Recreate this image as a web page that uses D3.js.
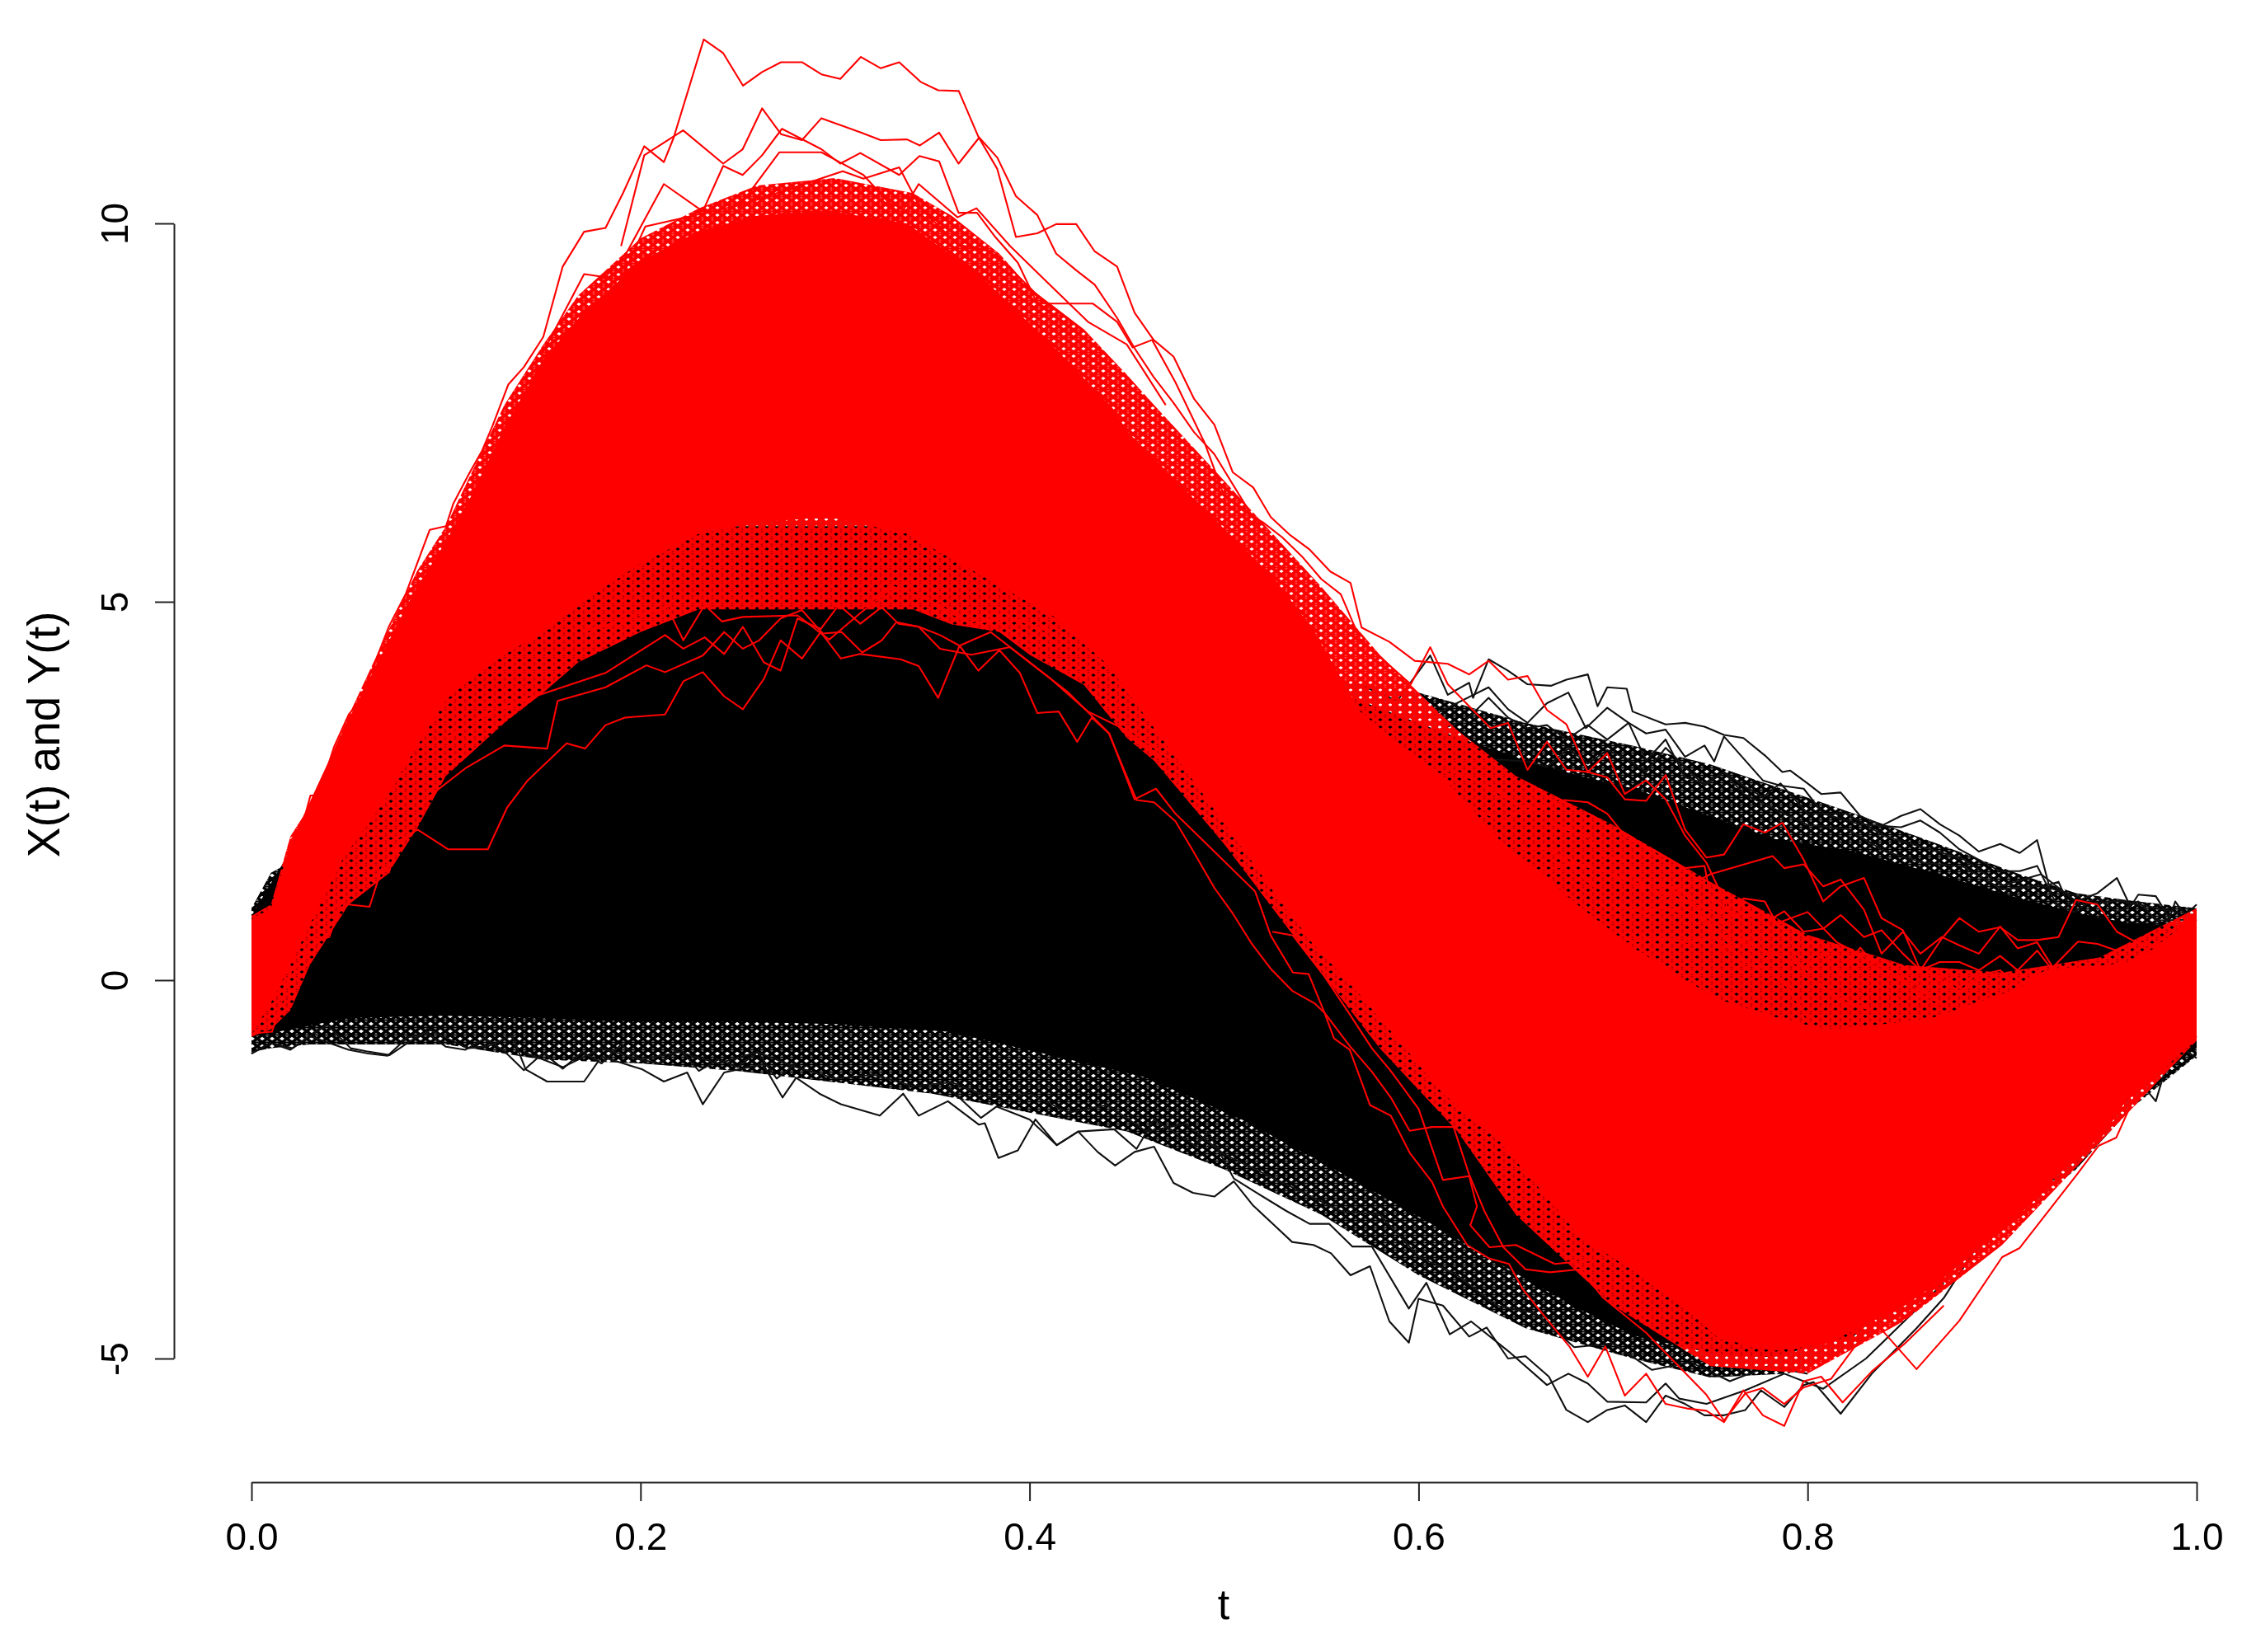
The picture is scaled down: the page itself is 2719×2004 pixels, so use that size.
<!DOCTYPE html>
<html>
<head>
<meta charset="utf-8">
<script src="https://cdn.jsdelivr.net/npm/d3@7"></script>
<style>
html,body{margin:0;padding:0;background:#fff;}
svg{display:block;filter:blur(0.6px);}
text{font-family:"Liberation Sans",Arial,sans-serif;fill:#000;}
</style>
</head>
<body>
<script>
const xTickValues=[0,0.2,0.4,0.6,0.8,1];
const yTickValues=[-5,0,5,10];
const xTitle="t";
const yTitle="X(t) and Y(t)";

// Densely overplotted bundles, read as [t, upper, lower]
const blackFringe=[[0,0.95,-0.95],[0.01,1.42,-0.9],[0.03,1.7,-0.85],[0.05,3,-0.85],[0.1,5,-0.85],[0.15,6,-1.05],[0.2,6.5,-1.1],[0.25,6.5,-1.2],[0.3,6.5,-1.35],[0.35,6.3,-1.5],[0.4,5.5,-1.75],[0.45,5,-2],[0.5,4.5,-2.5],[0.55,4,-3.1],[0.6,3.8,-3.9],[0.655,3.4,-4.6],[0.71,3.1,-5],[0.75,2.85,-5.25],[0.79,2.5,-5.2],[0.824,2.2,-4.85],[0.867,1.8,-4.1],[0.909,1.4,-3.1],[0.938,1.15,-2.5],[0.966,1.05,-1.7],[1,0.95,-1]];
const blackCore=[[0,0.85,-0.75],[0.05,3,-0.5],[0.1,5,-0.47],[0.15,5.5,-0.5],[0.2,6,-0.55],[0.25,6,-0.55],[0.3,6,-0.58],[0.358,6,-0.68],[0.409,5,-0.98],[0.459,4.5,-1.28],[0.509,4,-1.84],[0.559,3.8,-2.53],[0.61,3.3,-3.27],[0.655,2.9,-3.95],[0.683,2.7,-4.35],[0.711,2.53,-4.7],[0.754,2.13,-4.95],[0.782,1.87,-4.98],[0.824,1.7,-4.7],[0.867,1.4,-3.75],[0.909,1.08,-2.85],[0.938,0.89,-2.25],[0.966,0.75,-1.55],[1,0.72,-0.85]];
const redFringe=[[0,0.85,-0.75],[0.01,1,-0.65],[0.02,1.9,-0.4],[0.03,2.3,0.2],[0.05,3.5,1],[0.07,4.6,1.4],[0.085,5.4,2],[0.1,6,2.7],[0.113,6.7,3],[0.13,7.6,3.4],[0.15,8.4,3.8],[0.168,9.05,4.2],[0.2,9.8,4.6],[0.23,10.2,4.9],[0.26,10.5,4.9],[0.3,10.6,4.9],[0.34,10.4,4.9],[0.36,10.1,4.7],[0.3845,9.6,4.6],[0.4,9.15,4.3],[0.428,8.6,3.9],[0.45,8,3.2],[0.464,7.6,2.9],[0.5,6.6,1.8],[0.55,5.2,0.1],[0.58,4.3,-0.9],[0.62,3.3,-2],[0.65,2.7,-3.1],[0.7,2.05,-4.3],[0.75,1.3,-5.1],[0.8,0.6,-5.2],[0.85,0.2,-4.5],[0.9,0.1,-3.5],[0.95,0.3,-2.15],[1,0.95,-0.8]];
const redCore=[[0,0.8,-0.72],[0.01,0.95,-0.3],[0.02,1.8,0.2],[0.029,2.3,0.68],[0.047,3.3,1.6],[0.069,4.4,2.4],[0.083,5.1,3],[0.1,5.8,3.7],[0.113,6.4,4],[0.13,7.3,4.3],[0.15,8.2,4.6],[0.17,8.8,5],[0.2,9.5,5.5],[0.23,9.9,5.9],[0.26,10.1,6.05],[0.287,10.15,6.1],[0.3,10.15,6.1],[0.337,10,5.9],[0.375,9.3,5.35],[0.4127,8.36,4.8],[0.443,7.55,4.1],[0.4505,7.24,3.8],[0.488,6.27,2.5],[0.526,5.3,1.15],[0.545,4.66,0.5],[0.57,3.55,-0.2],[0.584,3.25,-0.62],[0.6125,2.68,-1.5],[0.641,1.87,-2.11],[0.683,0.97,-3.39],[0.711,0.42,-3.85],[0.74,-0.04,-4.4],[0.754,-0.25,-4.73],[0.782,-0.48,-4.9],[0.81,-0.66,-4.8],[0.85,-0.55,-4.3],[0.867,-0.48,-4],[0.909,-0.1,-3.1],[0.923,0.13,-2.75],[0.93,0.15,-2.5],[0.952,0.2,-2.05],[0.966,0.24,-1.5],[0.98,0.45,-1.24],[1,0.89,-0.74]];

// Individually visible black curves
const blackLowA=[[0,-0.97],[0.0095,-0.83],[0.021,-0.9],[0.032,-0.7],[0.039,-0.59],[0.051,-0.9],[0.059,-0.94],[0.071,-0.99],[0.082,-0.8],[0.092,-0.66],[0.111,-0.9],[0.122,-0.87],[0.134,-0.73],[0.141,-1.18],[0.152,-1.34],[0.171,-1.34],[0.18,-1.01],[0.201,-1.18],[0.212,-1.34],[0.224,-1.22],[0.232,-1.64],[0.243,-1.22],[0.263,-1.11],[0.273,-1.55],[0.28,-1.29],[0.292,-1.5],[0.303,-1.64],[0.323,-1.79],[0.335,-1.5],[0.343,-1.79],[0.358,-1.6],[0.374,-1.91],[0.377,-1.89],[0.384,-2.35],[0.394,-2.25],[0.403,-1.84],[0.414,-2.18],[0.425,-2],[0.435,-2.27],[0.444,-2.45],[0.454,-2.27],[0.464,-2.2],[0.474,-2.68],[0.484,-2.81],[0.495,-2.86],[0.505,-2.66],[0.515,-2.98],[0.525,-3.22],[0.535,-3.46],[0.546,-3.5],[0.555,-3.61],[0.565,-3.9],[0.575,-3.78],[0.585,-4.51],[0.595,-4.79],[0.6,-4.21],[0.6125,-4.3],[0.626,-4.71],[0.635,-4.59],[0.646,-5],[0.655,-4.97],[0.667,-5.24],[0.676,-5.68],[0.687,-5.84],[0.697,-5.68],[0.706,-5.62],[0.717,-5.84],[0.727,-5.49],[0.737,-5.6],[0.747,-5.75],[0.757,-5.75],[0.768,-5.68],[0.776,-5.42],[0.788,-5.64],[0.798,-5.35],[0.803,-5.31],[0.817,-5.73],[0.833,-5.2],[0.856,-4.6],[0.87,-4.2],[0.885,-3.6],[0.902,-3.08],[0.92,-2.7],[0.9347,-2.55],[0.95,-1.97],[0.971,-1.35],[0.979,-1.6],[0.9856,-1.03],[0.99,-1.1],[0.994,-0.92],[1,-1.03]];
const blackLowB=[[0.358,-1.41],[0.375,-1.82],[0.383,-1.67],[0.4,-1.84],[0.414,-2.18],[0.425,-2],[0.4435,-1.97],[0.455,-2.23],[0.464,-1.84],[0.4853,-2.19],[0.492,-2.01],[0.505,-2.62],[0.5155,-2.79],[0.532,-3.05],[0.544,-3.22],[0.554,-3.22],[0.566,-3.52],[0.576,-3.52],[0.595,-4.34],[0.604,-4],[0.616,-4.68],[0.627,-4.51],[0.646,-4.9],[0.666,-5.35],[0.677,-5.2],[0.687,-5.33],[0.697,-5.57],[0.717,-5.58],[0.727,-5.33],[0.734,-5.53],[0.748,-5.6],[0.768,-5.42],[0.788,-5.2],[0.808,-5.4],[0.83,-5],[0.85,-4.5],[0.87,-4]];
const blackLowC=[[0.14,-0.95],[0.16,-1.15],[0.18,-0.9],[0.2,-1.05],[0.22,-0.95],[0.24,-1.1],[0.26,-0.95],[0.28,-1.15],[0.3,-1.3],[0.32,-1.25],[0.34,-1.4],[0.36,-1.35],[0.38,-1.55],[0.4,-1.5],[0.42,-1.75],[0.44,-1.65],[0.46,-2],[0.48,-1.9],[0.5,-2.3],[0.52,-2.55],[0.54,-2.8],[0.56,-3.05],[0.58,-3.1],[0.6,-3.65],[0.62,-3.9],[0.64,-4.3],[0.66,-4.4],[0.68,-4.85],[0.7,-4.8],[0.72,-5.15],[0.74,-5.05],[0.76,-5.3],[0.78,-5.1],[0.8,-5.2]];
const blackLowD=[[0,-0.97],[0.01,-0.83],[0.02,-0.92],[0.03,-0.74],[0.04,-0.83],[0.05,-0.92],[0.06,-0.97],[0.07,-1],[0.08,-0.76],[0.09,-0.7],[0.1,-0.88],[0.11,-0.92],[0.12,-0.77],[0.13,-0.94],[0.14,-1.19],[0.15,-0.96],[0.16,-1.17],[0.17,-0.95],[0.18,-1.1],[0.19,-0.85],[0.2,-1.05],[0.21,-1.1],[0.22,-0.9],[0.23,-1.2],[0.24,-1.05],[0.25,-1.15],[0.26,-0.95],[0.27,-1.3],[0.28,-1.1]];
const blackTopA=[[0.57,3.9],[0.589,3.69],[0.606,4.29],[0.615,3.77],[0.626,3.93],[0.628,3.73],[0.636,4.24],[0.646,4.09],[0.656,3.91],[0.668,3.89],[0.676,3.97],[0.687,4.04],[0.692,3.62],[0.697,3.87],[0.707,3.85],[0.71,3.55],[0.727,3.38],[0.737,3.4],[0.747,3.35],[0.757,3.24],[0.767,3.2],[0.778,2.97],[0.787,2.75],[0.791,2.77],[0.8,2.6],[0.807,2.46],[0.817,2.48],[0.827,2.17],[0.838,2.04],[0.848,2.17],[0.858,2.26],[0.868,2.06],[0.878,1.91],[0.888,1.7],[0.899,1.8],[0.909,1.68],[0.918,1.85],[0.924,1.26],[0.929,1.3],[0.934,1],[0.949,1.15],[0.959,1.35],[0.966,0.97],[0.97,1.13],[0.979,1.11],[0.986,0.82],[0.989,1.04],[0.994,0.86],[1,1]];
const blackTopB=[[0.6,3.4],[0.615,3.6],[0.636,3.87],[0.646,3.58],[0.656,3.4],[0.666,3.66],[0.677,3.8],[0.686,3.33],[0.697,3.6],[0.708,3.4],[0.717,3.26],[0.727,3.31],[0.737,2.95],[0.747,3.1],[0.752,2.89],[0.757,3.22],[0.777,2.64],[0.786,2.57],[0.798,2.53],[0.808,2.2],[0.827,2.06],[0.848,2.02],[0.858,2.11],[0.868,1.95],[0.878,1.73],[0.888,1.59],[0.899,1.44],[0.909,1.44],[0.918,1.51],[0.928,1],[0.937,0.9],[0.949,1.1],[0.959,0.9],[0.97,1.04],[0.979,0.79],[1,0.8]];
const blackTopC=[[0.6,3.2],[0.625,3.45],[0.636,3.73],[0.646,3.47],[0.656,3.33],[0.666,3.37],[0.676,3.18],[0.687,3.37],[0.697,3.18],[0.708,3.4],[0.717,2.9],[0.727,3.18],[0.737,2.68],[0.747,2.6],[0.757,2.75],[0.767,2.57],[0.777,2.42],[0.786,2.6],[0.8,2.2],[0.82,2.2],[0.84,1.9],[0.86,1.75],[0.88,1.6],[0.9,1.25],[0.92,1.4],[0.94,1],[0.96,1.05],[0.98,0.95],[1,0.85]];
const blackTopD=[[0.62,2.95],[0.656,2.89],[0.666,2.82],[0.677,3.06],[0.687,2.86],[0.697,3.04],[0.707,2.93],[0.717,2.75],[0.727,3.07],[0.737,2.82],[0.747,2.57],[0.757,2.75],[0.767,2.46],[0.78,2.3],[0.8,2.05],[0.82,2],[0.84,1.7],[0.86,1.55],[0.88,1.5],[0.9,1.2],[0.92,1.25],[0.94,1.1]];

// Individually visible red curves
const redTopA=[[0.0198,1.84],[0.024,1.95],[0.0275,2.17],[0.0303,2.44],[0.0346,2.44],[0.0388,2.79],[0.0424,3.08],[0.05,3.51],[0.0558,3.69],[0.0706,4.67],[0.0794,5.11],[0.0916,5.95],[0.1,6],[0.1038,6.3],[0.112,6.7],[0.1186,7],[0.124,7.33],[0.132,7.87],[0.14,8.1],[0.15,8.5],[0.16,9.43],[0.171,9.89],[0.182,9.94],[0.191,10.4],[0.2019,11.02],[0.212,10.81],[0.217,11.13],[0.2325,12.43],[0.2425,12.25],[0.2527,11.82],[0.2625,12],[0.2722,12.13],[0.283,12.13],[0.293,11.97],[0.3027,11.91],[0.3133,12.2],[0.3235,12.05],[0.333,12.13],[0.344,11.87],[0.353,11.76],[0.3636,11.75],[0.3736,11.15],[0.3834,10.87],[0.393,10.36],[0.404,10.11],[0.4137,9.6],[0.424,9.38],[0.4335,9.19],[0.445,8.75],[0.454,8.35],[0.4638,7.97],[0.474,7.63],[0.4846,7.24],[0.495,6.95],[0.52,5.9]];
const redTopB=[[0.19,9.7],[0.2019,10.9],[0.2219,11.23],[0.2425,10.79],[0.2525,10.98],[0.2625,11.52],[0.2722,11.18],[0.283,11.1],[0.293,11.39],[0.3133,11.2],[0.3235,11.1],[0.337,11.11],[0.3436,11.03],[0.3535,11.2],[0.3635,10.79],[0.374,11.13],[0.3834,10.72],[0.393,9.82],[0.404,9.87],[0.4137,9.99],[0.424,9.99],[0.4335,9.63],[0.445,9.43],[0.454,8.82],[0.4638,8.46],[0.474,8.24],[0.4846,7.68],[0.495,7.34],[0.5045,6.71],[0.515,6.51],[0.524,6.12],[0.534,5.88],[0.544,5.69],[0.5546,5.4],[0.565,5.25],[0.5707,4.66],[0.585,4.47],[0.598,4.22],[0.615,4.18],[0.626,4.04],[0.636,4.22],[0.646,3.97],[0.656,4.02],[0.666,3.57],[0.676,3.38],[0.687,2.75],[0.697,2.68],[0.706,2.39],[0.717,2.37],[0.727,2.71],[0.737,1.99],[0.748,1.62],[0.757,1.66],[0.767,2.06],[0.778,1.95],[0.787,2.08],[0.798,1.59],[0.808,1.04],[0.817,1.24],[0.829,1.35],[0.838,0.82],[0.849,0.66],[0.858,0.13],[0.869,0.55],[0.878,0.82],[0.888,0.64],[0.899,0.7],[0.908,0.53],[0.918,0.53],[0.929,0.57],[0.938,1.06],[0.949,1],[0.959,0.64],[0.969,0.5],[0.979,0.42],[1,0.8]];
const redTopC=[[0.15,8.3],[0.171,9.33],[0.182,9.29],[0.193,9.62],[0.212,10.52],[0.232,10.16],[0.2425,10.76],[0.2525,10.64],[0.2625,10.9],[0.2727,11.25],[0.293,10.98],[0.3027,10.79],[0.313,10.93],[0.333,10.64],[0.3434,10.89],[0.3535,10.82],[0.3635,10.14],[0.373,10.14],[0.3824,9.82],[0.394,9.48],[0.404,8.94],[0.4326,8.94],[0.445,8.7],[0.453,8.36],[0.463,8.46],[0.475,7.9],[0.49,7.1],[0.5,6.4]];
const redTopD=[[0.25,10.2],[0.2714,10.94],[0.293,10.94],[0.3146,10.64],[0.3335,10.11],[0.343,10.52],[0.363,10.08],[0.3727,10.2],[0.39,9.7],[0.41,9.2],[0.43,8.7],[0.45,8.4],[0.47,7.6]];
const redTopE=[[0.18,8.7],[0.2025,9.96],[0.232,10.13],[0.2525,10.25],[0.282,10.5],[0.304,10.69],[0.3146,10.59],[0.333,10.74],[0.344,10.2],[0.363,9.72],[0.382,9.62],[0.393,9.33],[0.41,8.9]];
const redUpperRightA=[[0.5,6.4],[0.51,6.2],[0.52,6.05],[0.53,5.85],[0.54,5.6],[0.55,5.3],[0.56,5.1],[0.57,4.5],[0.596,3.91],[0.606,4.4],[0.615,3.91],[0.626,3.62],[0.637,3.33],[0.646,3.4],[0.656,2.78],[0.666,3.15],[0.676,2.78],[0.687,2.75],[0.697,3],[0.706,2.46],[0.717,2.64],[0.727,2.39],[0.737,1.91],[0.748,1.55],[0.76,0.9]];
const redMidA=[[0.72,1],[0.75,1.4],[0.782,1.64],[0.788,1.48],[0.798,1.53],[0.808,1.24],[0.817,1.33],[0.829,0.93],[0.838,0.35],[0.849,0.64],[0.858,0.35],[0.869,0.57],[0.878,0.46],[0.888,0.35],[0.899,0.71],[0.908,0.42],[0.918,0.5],[0.926,0.17],[0.939,0.51],[0.949,0.48],[0.959,0.39],[0.969,0.51],[0.979,0.46],[1,0.7]];
const redMidB=[[0.66,1.4],[0.68,1.55],[0.7,1.4],[0.72,1.2],[0.74,1],[0.76,0.9],[0.782,0.82],[0.788,0.91],[0.798,0.64],[0.808,0.68],[0.817,0.86],[0.829,0.57],[0.838,0.66],[0.849,0.35],[0.858,0.13],[0.868,0.24],[0.878,0.24],[0.888,0.13],[0.899,0.32],[0.908,0.13],[0.918,0.39],[0.926,0.13]];
const redMidC=[[0.7,0.45],[0.72,0.55],[0.74,0.5],[0.76,0.6],[0.782,0.35],[0.798,0.17],[0.808,0.35],[0.817,0.06],[0.827,0.43],[0.838,0.1],[0.849,-0.01],[0.858,-0.23],[0.868,0.06],[0.878,-0.16],[0.888,0.06],[0.899,0.13],[0.909,-0.08],[0.923,0.13]];
const redMidD=[[0.6,2.8],[0.62,2.75],[0.638,2.53],[0.655,2.24],[0.675,2.38],[0.687,2.35],[0.697,2.2],[0.707,1.88],[0.717,1.77],[0.737,1.48],[0.747,1.51],[0.75,1.11],[0.757,0.71],[0.767,1.08],[0.778,1.04],[0.784,0.75],[0.8,0.9],[0.815,0.5],[0.83,0.3],[0.85,0],[0.87,-0.35]];
const redMidE=[[0.625,2.3],[0.644,2.1],[0.655,2.31],[0.676,1.99],[0.686,1.91],[0.696,1.62],[0.706,1.59],[0.717,1.15],[0.727,1.26],[0.737,1.15],[0.747,0.79],[0.757,0.39],[0.767,0.5],[0.778,0.28],[0.79,0.45],[0.8,0.05],[0.82,-0.3],[0.84,-0.45]];
const redMidF=[[0.65,1.75],[0.669,1.73],[0.678,1.55],[0.687,1.3],[0.697,1.15],[0.707,0.93],[0.717,0.9],[0.727,0.97],[0.737,0.86],[0.747,0.82],[0.757,0.57],[0.768,0.21],[0.778,0.17],[0.79,-0.1],[0.8,-0.5]];
const redInnerA=[[0.002,-0.7],[0.0106,-0.68],[0.0204,0.12],[0.024,0.2],[0.033,0.53],[0.04,0.57],[0.046,1.01],[0.0607,0.97],[0.067,1.48],[0.0706,1.42],[0.0756,1.84],[0.0854,1.99],[0.101,1.73],[0.1215,1.73],[0.1314,2.28],[0.142,2.64],[0.162,3.13],[0.1715,3.06],[0.182,3.37],[0.192,3.47],[0.2126,3.51],[0.222,3.95],[0.232,4.07],[0.243,3.75],[0.2526,3.58],[0.2634,3.98],[0.272,4.49],[0.283,4.25],[0.2926,4.6],[0.303,4.25],[0.313,4.31],[0.3337,4.24],[0.343,4.15],[0.353,3.73],[0.364,4.42],[0.3737,4.09],[0.3845,4.36],[0.395,4.06],[0.404,3.53],[0.415,3.55],[0.4245,3.15],[0.432,3.47],[0.4408,3.26],[0.455,2.38],[0.464,2.35],[0.475,2.1],[0.484,1.71],[0.495,1.22],[0.5045,0.88],[0.514,0.49],[0.524,0.15],[0.535,-0.14],[0.5467,-0.31],[0.5516,-0.43],[0.5565,-0.77],[0.5646,-0.92],[0.575,-1.65],[0.5857,-1.79],[0.5954,-2.28],[0.607,-2.67],[0.6125,-2.99],[0.625,-3.5],[0.6365,-3.68],[0.6465,-3.75],[0.6535,-4.08],[0.6634,-4.4],[0.6775,-4.84],[0.687,-5.24],[0.696,-4.84],[0.706,-5.49],[0.717,-5.2],[0.727,-5.6],[0.738,-5.66],[0.748,-5.69],[0.757,-5.84],[0.767,-5.42],[0.777,-5.75],[0.788,-5.89],[0.798,-5.3],[0.807,-5.24],[0.818,-5.58],[0.833,-5.17],[0.85,-4.8],[0.87,-4.3]];
const redInnerB=[[0.09,2.4],[0.11,2.8],[0.13,3.1],[0.152,3.06],[0.1574,3.69],[0.182,3.87],[0.203,4.16],[0.2126,4.07],[0.232,4.29],[0.243,4.6],[0.2526,4.38],[0.261,4.49],[0.272,4.78],[0.283,4.89],[0.2937,4.58],[0.3034,4.6],[0.314,4.33],[0.324,4.49],[0.3315,4.73],[0.343,4.67],[0.354,4.56],[0.364,4.42],[0.38,4.6],[0.4,4.2],[0.42,3.8],[0.441,3.26],[0.454,2.39],[0.465,2.53],[0.475,2.2],[0.495,1.7],[0.516,1.17],[0.524,0.59],[0.5354,0.1],[0.5435,0.08],[0.5516,-0.43],[0.5646,-0.87],[0.576,-1.21],[0.5857,-1.55],[0.5954,-1.99],[0.607,-1.94],[0.618,-1.94],[0.626,-2.57],[0.634,-3.06],[0.6436,-3.53],[0.655,-3.82],[0.6676,-3.86],[0.683,-3.82],[0.695,-4.2],[0.717,-4.66],[0.728,-4.95],[0.748,-5.48],[0.757,-5.82],[0.768,-5.46],[0.777,-5.39],[0.788,-5.6],[0.798,-5.38],[0.812,-5.27],[0.834,-4.5],[0.856,-5.14],[0.878,-4.5],[0.9,-3.66],[0.909,-3.54],[0.929,-2.88],[0.939,-2.55],[0.9495,-2.19],[0.9587,-2.08],[0.97,-1.43],[0.98,-1.24],[1,-0.74]];
const redInnerC=[[0.1,3.2],[0.12,3.5],[0.14,3.7],[0.182,4.06],[0.2126,4.56],[0.222,4.38],[0.233,4.53],[0.243,4.31],[0.2526,4.67],[0.2634,4.2],[0.272,4.09],[0.2807,4.78],[0.2926,4.64],[0.302,4.96],[0.313,4.71],[0.324,4.93],[0.3326,4.71],[0.343,4.67],[0.354,4.38],[0.37,4.3],[0.39,4.4],[0.41,4],[0.43,3.55],[0.45,3.3],[0.47,2.9]];
const redInnerD=[[0.17,4.6],[0.2137,4.93],[0.222,4.49],[0.233,4.96],[0.2418,4.74],[0.2526,4.8],[0.2807,4.82],[0.297,4.5],[0.313,4.85],[0.33,5.2],[0.35,5],[0.37,4.7],[0.39,4.8],[0.41,4.6]];
const redInnerE=[[0.5248,0.64],[0.5354,0.59],[0.5516,0.05],[0.5646,-0.45],[0.576,-0.9],[0.5857,-1.2],[0.6,-1.7],[0.6125,-2.64],[0.626,-2.59],[0.63,-2.99],[0.6266,-3.24],[0.6365,-3.53],[0.65,-3.5],[0.67,-3.75],[0.69,-3.7]];

const blackLines=[blackLowA,blackLowB,blackLowC,blackLowD,blackTopA,blackTopB,blackTopC,blackTopD];
const redLines=[redTopA,redTopB,redTopC,redTopD,redTopE,redUpperRightA,redMidA,redMidB,redMidC,redMidD,redMidE,redMidF,redInnerA,redInnerB,redInnerC,redInnerD,redInnerE];

const W=2719,H=2004;
const x=d3.scaleLinear().domain([0,1]).range([305,2664]);
const y=d3.scaleLinear().domain([-5,10]).range([1648,271]);
const svg=d3.select("body").append("svg").attr("width",W).attr("height",H);

// Mesh fills: crossing strokes with open gaps, so whatever lies beneath shows through
const defs=svg.append("defs");
function mesh(id,colour,w,h,sw){
  const p=defs.append("pattern").attr("id",id).attr("patternUnits","userSpaceOnUse").attr("width",w).attr("height",h);
  p.append("path").attr("d",`M0,0L${w},${h}M${w},0L0,${h}`).attr("stroke",colour).attr("stroke-width",sw).attr("fill","none");
  p.append("path").attr("d",`M0,${h/2}L${w},${h/2}`).attr("stroke",colour).attr("stroke-width",sw*0.6).attr("fill","none");
}
mesh("blackMesh","#000",12,9,3.6);
mesh("redMesh","#f00",12,9,4);

const band=d3.area().x(d=>x(d[0])).y0(d=>y(d[2])).y1(d=>y(d[1]));
const line=d3.line().x(d=>x(d[0])).y(d=>y(d[1]));

svg.append("path").attr("d",band(blackFringe)).attr("fill","url(#blackMesh)");
svg.append("path").attr("d",band(blackCore)).attr("fill","#000");
svg.append("g").selectAll("path").data(blackLines).join("path")
  .attr("d",line).attr("fill","none").attr("stroke","#111").attr("stroke-width",2.1).attr("stroke-linejoin","round");
svg.append("path").attr("d",band(redFringe)).attr("fill","url(#redMesh)");
svg.append("path").attr("d",band(redCore)).attr("fill","#f00");
svg.append("g").selectAll("path").data(redLines).join("path")
  .attr("d",line).attr("fill","none").attr("stroke","#f00").attr("stroke-width",2.1).attr("stroke-linejoin","round");

const gx=svg.append("g").attr("transform","translate(0,1798)")
  .call(d3.axisBottom(x).tickValues(xTickValues).tickSize(23).tickSizeOuter(0).tickFormat(d3.format(".1f")));
const gy=svg.append("g").attr("transform","translate(211,0)")
  .call(d3.axisLeft(y).tickValues(yTickValues).tickSize(23).tickSizeOuter(0).tickFormat(d=>String(d)));
[gx,gy].forEach(g=>{
  g.selectAll("path,line").attr("stroke","#222").attr("stroke-width",2);
  g.selectAll("text").style("font-family",'"Liberation Sans",Arial,sans-serif').style("font-size","46px").attr("fill","#000");
});
gx.selectAll("text").attr("y",0).attr("dy",0).attr("transform","translate(0,82)").attr("text-anchor","middle");
gy.selectAll("text").attr("x",0).attr("dy",0).attr("text-anchor","middle").attr("transform","translate(-56,0) rotate(-90)");

svg.append("text").attr("x",1484).attr("y",1964).attr("text-anchor","middle").style("font-size","52px").text(xTitle);
svg.append("text").attr("transform","translate(72,891) rotate(-90)").attr("text-anchor","middle").style("font-size","55px").text(yTitle);
</script>
</body>
</html>
